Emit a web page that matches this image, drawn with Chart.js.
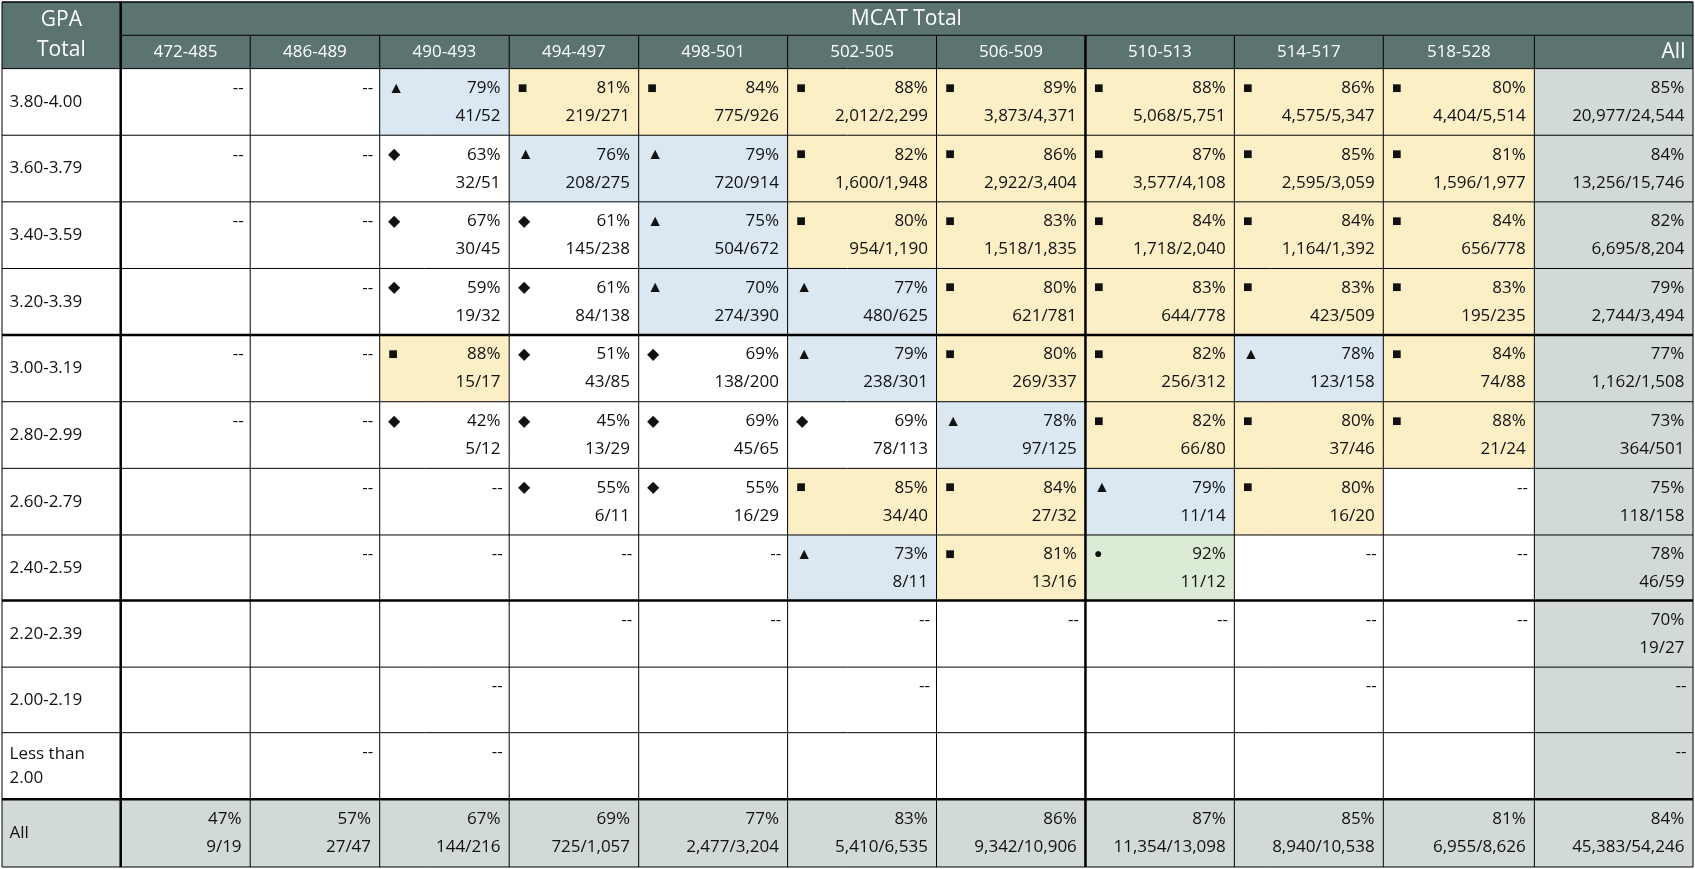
<!DOCTYPE html><html><head><meta charset="utf-8">
<script src="https://cdn.jsdelivr.net/npm/chart.js@4"></script>
<style>html,body{margin:0;background:#fff}#w{width:1695px;height:869px}</style></head><body><div id="w"><canvas id="c"></canvas></div>
<script>
const mcatCategories=["472-485","486-489","490-493","494-497","498-501","502-505","506-509","510-513","514-517","518-528","All"];
const gpaCategories=["3.80-4.00","3.60-3.79","3.40-3.59","3.20-3.39","3.00-3.19","2.80-2.99","2.60-2.79","2.40-2.59","2.20-2.39","2.00-2.19","Less than\n2.00","All"];
// cell: "" empty, "--" suppressed, otherwise "marker pct counts" (marker T=▲ S=■ D=◆ C=● A=all)
const r1=["--","--","T 79 41/52","S 81 219/271","S 84 775/926","S 88 2,012/2,299","S 89 3,873/4,371","S 88 5,068/5,751","S 86 4,575/5,347","S 80 4,404/5,514","A 85 20,977/24,544"];
const r2=["--","--","D 63 32/51","T 76 208/275","T 79 720/914","S 82 1,600/1,948","S 86 2,922/3,404","S 87 3,577/4,108","S 85 2,595/3,059","S 81 1,596/1,977","A 84 13,256/15,746"];
const r3=["--","--","D 67 30/45","D 61 145/238","T 75 504/672","S 80 954/1,190","S 83 1,518/1,835","S 84 1,718/2,040","S 84 1,164/1,392","S 84 656/778","A 82 6,695/8,204"];
const r4=["","--","D 59 19/32","D 61 84/138","T 70 274/390","T 77 480/625","S 80 621/781","S 83 644/778","S 83 423/509","S 83 195/235","A 79 2,744/3,494"];
const r5=["--","--","S 88 15/17","D 51 43/85","D 69 138/200","T 79 238/301","S 80 269/337","S 82 256/312","T 78 123/158","S 84 74/88","A 77 1,162/1,508"];
const r6=["--","--","D 42 5/12","D 45 13/29","D 69 45/65","D 69 78/113","T 78 97/125","S 82 66/80","S 80 37/46","S 88 21/24","A 73 364/501"];
const r7=["","--","--","D 55 6/11","D 55 16/29","S 85 34/40","S 84 27/32","T 79 11/14","S 80 16/20","--","A 75 118/158"];
const r8=["","--","--","--","--","T 73 8/11","S 81 13/16","C 92 11/12","--","--","A 78 46/59"];
const r9=["","","","--","--","--","--","--","--","--","A 70 19/27"];
const r10=["","","--","","","--","","","--","","A --"];
const r11=["","--","--","","","","","","","","A --"];
const rAll=["A 47 9/19","A 57 27/47","A 67 144/216","A 69 725/1,057","A 77 2,477/3,204","A 83 5,410/6,535","A 86 9,342/10,906","A 87 11,354/13,098","A 85 8,940/10,538","A 81 6,955/8,626","A 84 45,383/54,246"];
const rows=[r1,r2,r3,r4,r5,r6,r7,r8,r9,r10,r11,rAll];
const colEdges=[0,110,230,350,470,590,728,866,1004,1142,1280,1420,1567];
const rowEdges=[62,124,186,248,310,372,434,496,557,619,680,742,805];
const thickRows=[310,557,742], thickCols=[110,1004];
const fills={T:"#dbe8f1",S:"#fcefc6",D:"#ffffff",C:"#dcebd6",A:"#d2dad9"};
const glyph={T:"▲",S:"■",D:"◆",C:"●"};
const HEAD="#5c7471";
const tablePlugin={id:"table",afterDraw(ch){
 const c=ch.ctx,X=ch.scales.x,Y=ch.scales.y;
 const px=v=>X.getPixelForValue(v),py=v=>Y.getPixelForValue(v);
 const k=(px(1567)-px(0))/1567;
 const F=s=>`${Math.round(s*k)}px "Open Sans", "Noto Sans", sans-serif`;
 c.save();
 // header
 c.fillStyle=HEAD;c.fillRect(px(0),py(0),px(1567)-px(0),py(62)-py(0));
 c.fillStyle="#fff";c.textBaseline="middle";c.textAlign="center";
 c.font=F(19);c.fillText("GPA",px(55),py(17));c.fillText("Total",px(55),py(45));
 c.fillText("MCAT Total",px(838),py(16));
 c.font=F(16);
 for(let i=0;i<10;i++)c.fillText(mcatCategories[i],(px(colEdges[i+1])+px(colEdges[i+2]))/2,py(47));
 c.textAlign="right";c.font=F(19);c.fillText("All",px(1560),py(47));
 // cells
 for(let r=0;r<rows.length;r++){
  const y0=py(rowEdges[r]),y1=py(rowEdges[r+1]);
  const isAllRow=r===rows.length-1;
  if(isAllRow){c.fillStyle=fills.A;c.fillRect(px(0),y0,px(110)-px(0),y1-y0);}
  c.fillStyle="#111";c.textAlign="left";c.font=F(16);
  const lab=gpaCategories[r].split("\n");
  lab.forEach((t,i)=>c.fillText(t,px(7),(y0+y1)/2+(i-(lab.length-1)/2)*22*k));
  for(let j=0;j<11;j++){
   const x0=px(colEdges[j+1]),x1=px(colEdges[j+2]);let v=rows[r][j];
   let m=null;if(j===10||isAllRow)m="A";
   if(v.startsWith("A "))v=v.slice(2);
   if(/^[TSDC] /.test(v)){m=v[0];v=v.slice(2);}
   if(m){c.fillStyle=fills[m];c.fillRect(x0,y0,x1-x0,y1-y0);}
   c.fillStyle="#111";c.textAlign="right";
   if(v==="--"){c.font=F(16);c.fillText("--",x1-6*k,y0+18*k);continue;}
   if(!v)continue;
   const [p,n]=v.split(" ");
   c.font=F(16);c.fillText(p+"%",x1-8*k,y0+18*k);c.fillText(n,x1-8*k,y0+44*k);
   if(glyph[m]){c.textAlign="left";c.font=F(m==="C"?13:15);c.fillText(glyph[m],x0+8*k,y0+18*k);}
  }
 }
 // grid
 c.strokeStyle="#000";
 const line=(a,b,d,e,w)=>{c.lineWidth=w;c.beginPath();c.moveTo(a,b);c.lineTo(d,e);c.stroke();};
 rowEdges.forEach(v=>line(px(0),py(v),px(1567),py(v),thickRows.includes(v)?2.5:1));
 colEdges.forEach((v,i)=>line(px(v),py(i>=2&&i<colEdges.length-1?31:0),px(v),py(805),thickCols.includes(v)?2.5:1));
 line(px(110),py(31),px(1567),py(31),1);
 line(px(0),py(0),px(1567),py(0),1.5);
 c.restore();
}};
new Chart(document.getElementById("c"),{type:"scatter",data:{datasets:[{data:[],pointRadius:0}]},
 options:{responsive:true,maintainAspectRatio:false,animation:false,layout:{padding:2},
 plugins:{legend:{display:false},tooltip:{enabled:false}},
 scales:{x:{type:"linear",min:0,max:1567,display:false},y:{type:"linear",min:0,max:805,reverse:true,display:false}}},
 plugins:[tablePlugin]});
</script></body></html>
